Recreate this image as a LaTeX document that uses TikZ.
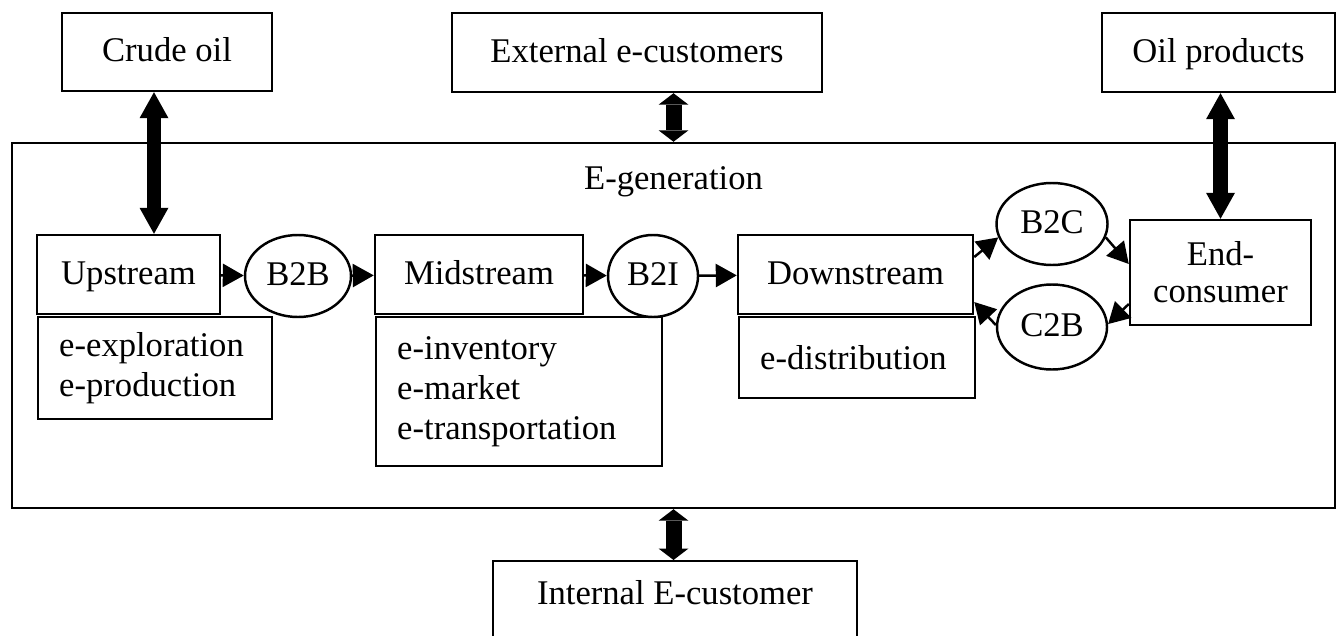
\documentclass[tikz,border=0pt]{standalone}
\usepackage{fontspec}
\setmainfont{Liberation Serif}
\usetikzlibrary{arrows.meta,shapes.geometric,calc}
\tikzset{
  box/.style={draw, line width=1.4pt, inner sep=0pt, align=center},
  onerow/.style={text height=0.5cm, text depth=0.12cm},
  subbox/.style={draw, line width=1.4pt, inner ysep=0pt, inner xsep=0.42cm, align=left, anchor=north west},
  bubble/.style={draw, ellipse, line width=1.4pt, inner sep=0pt, text height=0.5cm, text depth=0.12cm},
  flow/.style={line width=1.4pt, -{Triangle[length=0.42cm,width=0.46cm]}},
  longdouble/.style={line width=0.29cm, {Triangle[length=0.52cm,width=0.58cm,line width=0pt]}-{Triangle[length=0.52cm,width=0.58cm,line width=0pt]}},
  shortdouble/.style={line width=0.32cm, {Triangle[length=0.23cm,width=0.6cm,line width=0pt]}-{Triangle[length=0.23cm,width=0.6cm,line width=0pt]}}
}
\begin{document}
\begin{tikzpicture}[font=\fontsize{19.7}{22.7}\selectfont]
			%%%%% START %%%%%
			\useasboundingbox (0,0) rectangle (26.74,-12.7);
			
			\node[box, onerow, minimum width=4.2cm, minimum height=1.56cm] (crude) at (3.34,-1.04) {Crude oil};
			\node[box, onerow, minimum width=7.4cm, minimum height=1.58cm] (extc) at (12.74,-1.05) {External e-customers};
			\node[box, onerow, minimum width=4.66cm, minimum height=1.58cm] (oilp) at (24.37,-1.05) {Oil products};
			
			\node[box, minimum width=26.46cm, minimum height=7.3cm] (egen) at (13.47,-6.51) {};
			\node[onerow] (egentitle) at (13.47,-3.6) {E-generation};
			
			\node[box, onerow, minimum width=3.66cm, minimum height=1.58cm] (up) at (2.57,-5.49) {Upstream};
			\node[subbox, text width=3.84cm, minimum height=2.04cm] (upsub) at (0.74,-6.32) {e-exploration\\e-production};
			\node[bubble, minimum width=2.12cm, minimum height=1.64cm] (b2b) at (5.96,-5.52) {B2B};
			
			\node[box, onerow, minimum width=4.16cm, minimum height=1.58cm] (mid) at (9.58,-5.49) {Midstream};
			\node[subbox, text width=4.88cm, minimum height=2.98cm] (midsub) at (7.5,-6.32) {e-inventory\\e-market\\e-transportation};
			\node[bubble, minimum width=1.8cm, minimum height=1.64cm] (b2i) at (13.06,-5.52) {B2I};
			
			\node[box, onerow, minimum width=4.7cm, minimum height=1.58cm] (down) at (17.11,-5.49) {Downstream};
			\node[subbox, text width=3.88cm, minimum height=1.62cm] (downsub) at (14.76,-6.32) {e-distribution};
			
			\node[bubble, minimum width=2.22cm, minimum height=1.64cm] (b2c) at (21.04,-4.48) {B2C};
			\node[bubble, minimum width=2.2cm, minimum height=1.7cm] (c2b) at (21.04,-6.54) {C2B};
			\node[box, minimum width=3.62cm, minimum height=2.1cm] (endc) at (24.41,-5.45) {End-\\[-0.06cm]consumer};
			
			\node[box, anchor=north, minimum width=7.28cm, minimum height=1.8cm, text depth=0.55cm] (intc) at (13.5,-11.2) {Internal E-customer};
			
			% flows inside
			\draw[flow] (up) -- (b2b);
			\draw[flow] (b2b) -- (mid);
			\draw[flow] (mid) -- (b2i);
			\draw[flow] (b2i) -- (down);
			\draw[flow] ([yshift=0.35cm]down.east) -- (b2c.194);
			\draw[flow] (b2c.346) -- ([yshift=0.17cm]endc.west);
			\draw[flow] ([yshift=-0.63cm]endc.west) -- (c2b.3);
			\draw[flow] (c2b.178) -- ([yshift=-0.55cm]down.east);
			
			% big arrows
			\draw[longdouble] ([xshift=-0.26cm]crude.south) -- ([xshift=-0.26cm]crude.south |- up.north);
			\draw[shortdouble] (egen.north |- extc.south) -- (egen.north);
			\draw[longdouble] (endc.north |- oilp.south) -- (endc.north);
			\draw[shortdouble] (egen.south) -- (egen.south |- intc.north);
			
			%%%%% END %%%%%
\end{tikzpicture}
\end{document}
